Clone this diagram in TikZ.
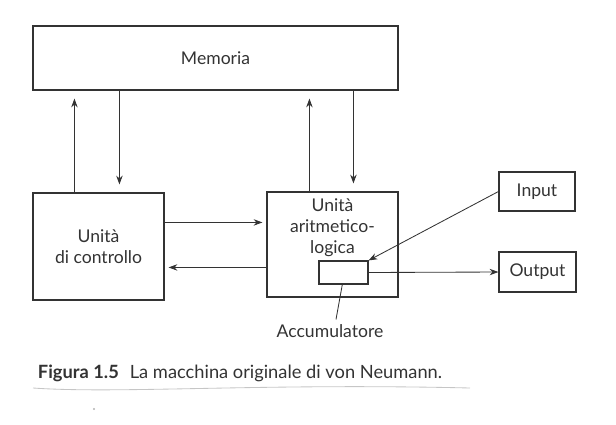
\documentclass[tikz,border=0pt]{standalone}
\usepackage{fontspec}
\setmainfont{Lato}
\usetikzlibrary{arrows.meta}

\tikzset{x=0.25mm, y=-0.25mm,
    every node/.append style={font=\fontsize{12.5}{15}\selectfont, text=black!80},
    blocco/.style={draw=black!80, line width=0.8pt, inner sep=0pt},
    freccia/.style={draw=black!80, line width=0.6pt, -{Stealth[length=2.2mm, width=1.6mm]}}}

\begin{document}
\begin{tikzpicture}
    \useasboundingbox (0,0) rectangle (616,424);
    % blocchi
    \node[blocco, minimum width=91.25mm, minimum height=16mm] (mem) at (215.5,58) {Memoria};
    \node[blocco, minimum width=32.75mm, minimum height=26.75mm, align=center] (cu) at (98.5,246.5) {Unità\\di controllo};
    \node[blocco, minimum width=32.75mm, minimum height=26.25mm,
        label={[anchor=north, align=center, yshift=-0.6mm]north:Unità\\aritmetico-\\logica}] (alu) at (332.5,244.5) {};
    \node[blocco, minimum width=12.25mm, minimum height=5.75mm] (acc) at (343.5,272.5) {};
    \node[blocco, minimum width=19mm, minimum height=9.75mm] (in) at (537,191.5) {Input};
    \node[blocco, minimum width=19.25mm, minimum height=10mm] (out) at (537.5,272) {Output};
    \node (acclbl) at (330,331) {Accumulatore};
    % collegamenti con la memoria
    \draw[freccia, shorten >=2mm] ([xshift=10.5mm]cu.north west) -- ([xshift=10.5mm]cu.north west |- mem.south);
    \draw[freccia, shorten >=2mm] ([xshift=21.75mm]cu.north west |- mem.south) -- ([xshift=21.75mm]cu.north west);
    \draw[freccia, shorten >=2mm] ([xshift=10.75mm]alu.north west) -- ([xshift=10.75mm]alu.north west |- mem.south);
    \draw[freccia, shorten >=2mm] ([xshift=21.75mm]alu.north west |- mem.south) -- ([xshift=21.75mm]alu.north west);
    % controllo <-> ALU
    \draw[freccia, shorten >=1mm] ([yshift=-7.5mm]cu.north east) -- ([yshift=-7.5mm]cu.north east -| alu.west);
    \draw[freccia, shorten >=1mm] ([yshift=-18.75mm]cu.north east -| alu.west) -- ([yshift=-18.75mm]cu.north east);
    % ingresso e uscita
    \draw[freccia] (in.west) -- (acc.north east);
    \draw[freccia] (acc.east) -- (out.west);
    \draw[draw=black!80, line width=0.6pt] ([xshift=1.5mm]acclbl.north) -- ([xshift=-0.3mm]acc.south);
    % didascalia
    \node[anchor=base west, font=\fontsize{13}{15}\selectfont] (cap) at (33,378)
        {\textbf{Figura 1.5}\hspace{0.6em}La macchina originale di von Neumann.};
    \draw[gray!45, line width=0.6pt] (33,388) .. controls (120,394) and (260,383) .. (470,388);
    \fill[gray!60] (94,409) circle (0.3mm);
\end{tikzpicture}
\end{document}
